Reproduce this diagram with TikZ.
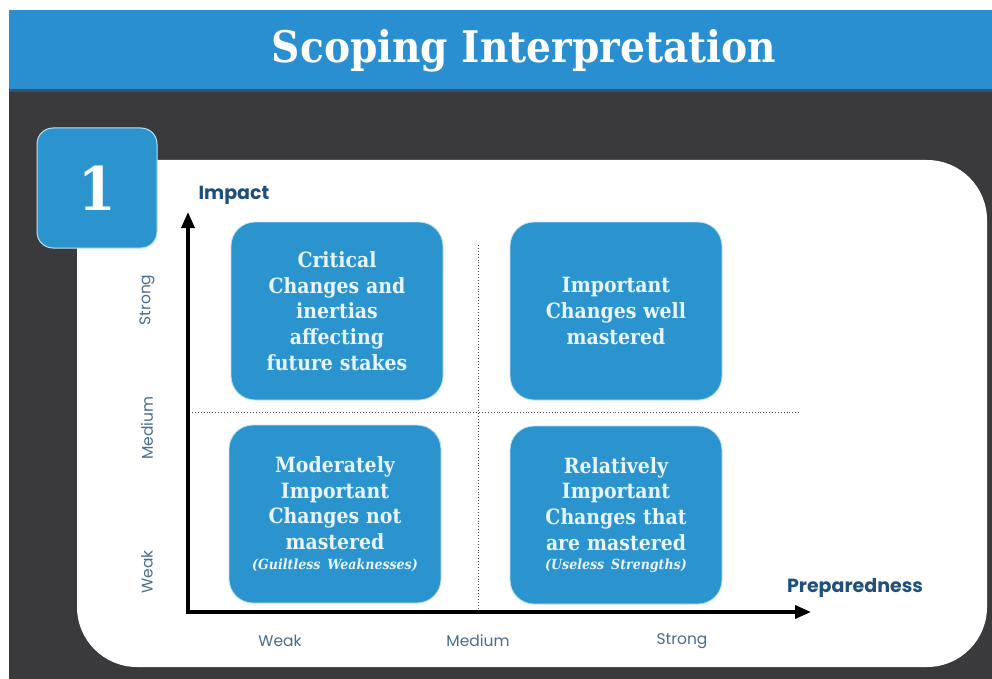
\documentclass[tikz,border=0pt]{standalone}
\usepackage{fontspec}
\newfontfamily\axisfont{Poppins}
\newfontfamily\slideserif{DejaVuSerifCondensed-Bold.ttf}
\newfontfamily\slideserifit{DejaVuSerifCondensed-BoldItalic.ttf}
\usepackage{tikz}
\usetikzlibrary{positioning,arrows.meta}
\definecolor{mHeadBlue}{HTML}{2A8FD0}
\definecolor{mSlate}{HTML}{3A3A3C}
\definecolor{mBoxBlue}{HTML}{2B94CF}
\definecolor{mBoxEdge}{HTML}{BDE2F4}
\definecolor{mPaleText}{HTML}{E8F5FC}
\definecolor{mNavy}{HTML}{1F4F7A}
\definecolor{mTick}{HTML}{4A6C8C}

\begin{document}
\begin{tikzpicture}[x=1pt, y=-1pt,
  quad/.style={draw=mBoxEdge, line width=0.8pt, fill=mBoxBlue, rounded corners=24pt, minimum width=212pt, minimum height=178pt, text width=206pt, align=center, inner sep=0pt, text=mPaleText, font=\slideserif\fontsize{21}{25.7}\selectfont},
  tick/.style={text=mTick, font=\axisfont\fontsize{15.5}{18}\selectfont},
  axlabel/.style={text=mNavy, font=\axisfont\fontsize{19}{22}\selectfont\bfseries}]
\useasboundingbox (0,0) rectangle (992,679);
% slide background, header band and white panel
\fill[mSlate] (9,10) rectangle (992,679);
\fill[mHeadBlue] (9,10) rectangle (992,89);
\fill[mSlate!70!mHeadBlue] (9,89) rectangle (992,92);
\fill[white, rounded corners=60pt] (77,160) rectangle (987,667);
\node[text=white, font=\slideserif\fontsize{43.5}{48}\selectfont] (title) at (524,51) {Scoping Interpretation};
\node[draw=mBoxEdge, line width=1pt, fill=mBoxBlue, rounded corners=16pt, minimum size=120pt, text=white, font=\slideserif\fontsize{60}{64}\selectfont] (num) at (97,188) {1};
% axes
\coordinate (ytop) at (188,212);
\coordinate (o) at (188,612);
\coordinate (xend) at (811,612);
\draw[line width=3.5pt, {Triangle[length=16pt,width=13pt]}-{Triangle[length=16pt,width=13pt]}] (ytop) -- (o) -- (xend);
\draw[dotted, line width=0.9pt, black!70] (478,245) -- (478,609);
\draw[dotted, line width=0.9pt, black!70] (192,412) -- (800,412);
% quadrants
\node[quad] (critical) at (337,311) {Critical\\Changes and\\inertias\\affecting\\future stakes};
\node[quad] (wellmastered) at (616,311) {Important\\Changes well\\mastered};
\node[quad] (moderate) at (335,514) {Moderately\\Important\\Changes not\\mastered\\[-6pt]{\slideserifit\fontsize{14}{16}\selectfont (Guiltless Weaknesses)}};
\node[quad] (relative) at (616,515) {Relatively\\Important\\Changes that\\are mastered\\[-6pt]{\slideserifit\fontsize{14}{16}\selectfont (Useless Strengths)}};
% axis labels
\node[axlabel, anchor=west] (impact) at (195,195) {Impact};
\node[axlabel] (prep) at (855,588) {Preparedness};
\node[tick, rotate=90] (ystrong) at (147,300) {Strong};
\node[tick, rotate=90] (ymedium) at (147,428) {Medium};
\node[tick, rotate=90] (yweak) at (147,572) {Weak};
\node[tick] (xweak) at (280,641) {Weak};
\node[tick] (xmedium) at (478,641) {Medium};
\node[tick] (xstrong) at (682,641) {Strong};
\end{tikzpicture}
\end{document}
